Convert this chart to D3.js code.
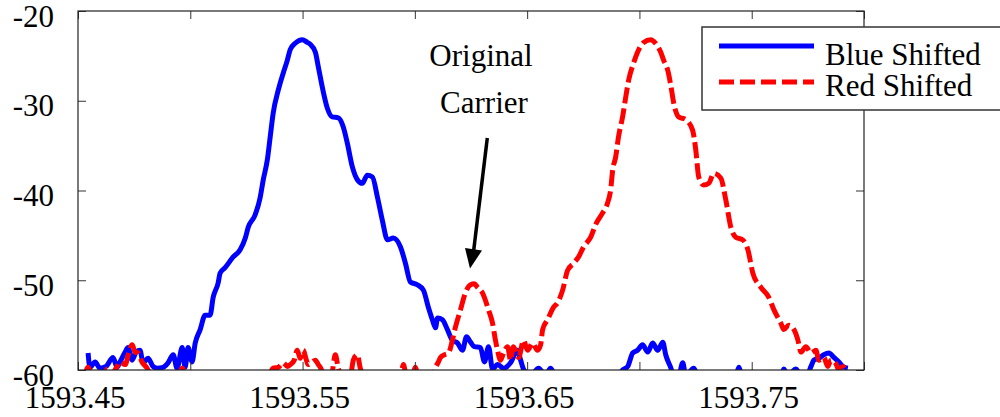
<!DOCTYPE html>
<html><head><meta charset="utf-8">
<script src="https://cdn.jsdelivr.net/npm/d3@7"></script>
<style>body{margin:0;background:#fff}svg{display:block}</style>
</head><body><svg id="c" width="1000" height="417"></svg>
<script>
const blueX=[1593.4545,1593.4553,1593.4576,1593.4598,1593.4625,1593.4656,1593.4674,1593.4687,1593.4710,1593.4723,1593.4741,1593.4759,1593.4776,1593.4790,1593.4812,1593.4834,1593.4852,1593.4879,1593.4901,1593.4924,1593.4941,1593.4964,1593.4977,1593.4990,1593.5008,1593.5022,1593.5044,1593.5066,1593.5088,1593.5102,1593.5124,1593.5133,1593.5155,1593.5191,1593.5222,1593.5245,1593.5258,1593.5289,1593.5311,1593.5325,1593.5343,1593.5356,1593.5369,1593.5392,1593.5414,1593.5432,1593.5445,1593.5467,1593.5499,1593.5521,1593.5534,1593.5557,1593.5570,1593.5588,1593.5610,1593.5632,1593.5659,1593.5681,1593.5699,1593.5722,1593.5744,1593.5766,1593.5788,1593.5811,1593.5833,1593.5855,1593.5878,1593.5904,1593.5936,1593.5958,1593.5980,1593.6011,1593.6038,1593.6060,1593.6078,1593.6092,1593.6101,1593.6123,1593.6145,1593.6167,1593.6190,1593.6212,1593.6230,1593.6248,1593.6265,1593.6292,1593.6310,1593.6328,1593.6346,1593.6368,1593.6395,1593.6426,1593.6457,1593.6471,1593.6484,1593.6515,1593.6551,1593.6582,1593.6604,1593.6627,1593.6907,1593.6925,1593.6948,1593.6970,1593.6992,1593.7014,1593.7037,1593.7059,1593.7081,1593.7104,1593.7117,1593.7139,1593.7153,1593.7175,1593.7193,1593.7206,1593.7242,1593.7260,1593.7429,1593.7443,1593.7456,1593.7630,1593.7643,1593.7661,1593.7697,1593.7719,1593.7746,1593.7764,1593.7777,1593.7799,1593.7821,1593.7844,1593.7866,1593.7888,1593.7906,1593.7928];
const blueY=[-58.1,-59.7,-59.1,-59.8,-59.6,-58.6,-59.7,-59.1,-58.0,-57.5,-58.9,-58.0,-57.8,-59.2,-58.7,-59.6,-59.8,-59.7,-59.2,-58.3,-59.8,-57.5,-59.7,-57.5,-59.1,-57.0,-55.5,-53.9,-53.9,-51.9,-50.3,-49.2,-48.6,-47.4,-46.6,-45.3,-44.1,-42.7,-40.8,-38.8,-36.6,-34.0,-31.4,-28.8,-26.9,-25.5,-24.3,-23.6,-23.2,-23.5,-23.7,-24.6,-26.2,-28.5,-30.8,-31.8,-31.9,-32.9,-34.7,-37.4,-38.8,-39.2,-38.3,-38.5,-40.7,-43.3,-45.5,-45.3,-46.3,-48.1,-50.2,-50.5,-51.1,-53.0,-54.4,-55.3,-54.2,-54.4,-55.5,-56.7,-57.0,-57.8,-56.3,-56.9,-57.4,-57.5,-59.1,-57.4,-59.9,-59.4,-59.8,-59.2,-57.8,-58.9,-59.9,-60.6,-59.8,-60.6,-59.8,-60.6,-60.6,-60.0,-59.6,-58.1,-57.8,-57.2,-58.0,-57.0,-57.8,-56.9,-58.3,-59.7,-60.6,-60.6,-59.2,-60.6,-59.8,-60.6,-60.6,-59.7,-60.6,-60.6,-59.9,-60.6,-59.9,-60.6,-60.6,-59.6,-58.9,-58.7,-58.3,-58.1,-58.6,-59.1,-59.6,-59.8];
const redX=[1593.4531,1593.4545,1593.4562,1593.4616,1593.4629,1593.4647,1593.4674,1593.4687,1593.4710,1593.4727,1593.4741,1593.4754,1593.4767,1593.4785,1593.4808,1593.4825,1593.4946,1593.4964,1593.4981,1593.5347,1593.5369,1593.5392,1593.5414,1593.5432,1593.5445,1593.5463,1593.5476,1593.5490,1593.5503,1593.5517,1593.5525,1593.5543,1593.5557,1593.5570,1593.5579,1593.5597,1593.5628,1593.5646,1593.5659,1593.5677,1593.5713,1593.5726,1593.5744,1593.5757,1593.5771,1593.5936,1593.5949,1593.5962,1593.5989,1593.6002,1593.6016,1593.6078,1593.6092,1593.6105,1593.6114,1593.6132,1593.6150,1593.6167,1593.6181,1593.6203,1593.6225,1593.6248,1593.6265,1593.6279,1593.6301,1593.6328,1593.6346,1593.6359,1593.6368,1593.6381,1593.6395,1593.6413,1593.6426,1593.6439,1593.6462,1593.6484,1593.6502,1593.6524,1593.6546,1593.6560,1593.6569,1593.6591,1593.6618,1593.6636,1593.6658,1593.6680,1593.6707,1593.6729,1593.6751,1593.6783,1593.6805,1593.6836,1593.6858,1593.6872,1593.6881,1593.6894,1593.6907,1593.6925,1593.6939,1593.6952,1593.6974,1593.6997,1593.7019,1593.7050,1593.7072,1593.7095,1593.7108,1593.7126,1593.7139,1593.7153,1593.7175,1593.7206,1593.7237,1593.7251,1593.7264,1593.7286,1593.7309,1593.7331,1593.7362,1593.7385,1593.7407,1593.7429,1593.7460,1593.7483,1593.7505,1593.7541,1593.7576,1593.7599,1593.7630,1593.7643,1593.7665,1593.7688,1593.7706,1593.7719,1593.7741,1593.7764,1593.7786,1593.7799,1593.7821,1593.7839,1593.7853,1593.7875,1593.7888,1593.7906,1593.7920];
const redY=[-60.6,-59.7,-60.6,-60.6,-59.9,-60.6,-59.6,-59.1,-59.4,-58.0,-57.2,-58.0,-58.1,-59.1,-59.8,-60.6,-60.6,-59.8,-60.6,-60.6,-59.8,-59.7,-59.2,-59.6,-59.4,-58.9,-57.8,-58.7,-57.8,-58.9,-59.4,-59.1,-58.9,-59.4,-59.7,-60.6,-60.6,-58.3,-59.8,-60.6,-60.6,-58.9,-58.3,-59.8,-60.6,-60.6,-59.4,-60.6,-60.6,-59.7,-60.6,-60.6,-59.7,-59.1,-58.6,-58.3,-58.1,-56.7,-55.2,-53.3,-51.4,-50.5,-50.4,-50.8,-51.4,-53.3,-54.8,-56.7,-57.8,-58.9,-58.1,-57.4,-58.9,-57.4,-58.6,-56.7,-57.8,-57.0,-57.8,-57.2,-55.5,-54.4,-53.0,-52.5,-51.1,-48.9,-48.1,-47.4,-46.3,-45.2,-43.8,-42.5,-41.4,-39.9,-37.7,-36.3,-34.0,-31.8,-29.6,-27.7,-25.8,-24.3,-23.5,-23.2,-23.6,-24.6,-25.5,-26.6,-28.2,-30.3,-31.8,-32.1,-33.3,-35.5,-38.5,-39.4,-39.2,-38.1,-38.6,-41.1,-44.1,-45.2,-45.5,-46.6,-49.2,-50.8,-51.9,-53.3,-54.8,-55.5,-55.0,-55.5,-56.7,-58.0,-57.4,-58.1,-57.8,-58.9,-58.6,-59.6,-58.9,-59.3,-60.0,-59.6,-60.6];
const xTicks=[1593.45,1593.50,1593.55,1593.60,1593.65,1593.70,1593.75,1593.80];
const xLabels=[1593.45,1593.55,1593.65,1593.75];
const yTicks=[-60,-50,-40,-30,-20];
const seriesNames=["Blue Shifted","Red Shifted"];
const annotation=["Original","Carrier"];

const FONT="'Liberation Serif','Times New Roman',Times,'DejaVu Serif',serif";
const svg=d3.select("#c").attr("font-family",FONT);
const L=78,R=864,T=11,B=370;
const x=d3.scaleLinear().domain([1593.45,1593.80]).range([L,R]);
const y=d3.scaleLinear().domain([-60,-20]).range([B,T]);

svg.append("defs").append("clipPath").attr("id","clip").append("rect")
  .attr("x",L).attr("y",T).attr("width",R-L).attr("height",B-T);

const line=d3.line().x(d=>x(d[0])).y(d=>y(d[1])).curve(d3.curveMonotoneX);
const blue=blueX.map((v,i)=>[v,blueY[i]]);
const red=redX.map((v,i)=>[v,redY[i]]);

const g=svg.append("g").attr("clip-path","url(#clip)");
g.append("path").datum(blue).attr("d",line).attr("fill","none").attr("stroke","#0000ff").attr("stroke-width",5).attr("stroke-linejoin","round");
g.append("path").datum(red).attr("d",line).attr("fill","none").attr("stroke","#ff0000").attr("stroke-width",5).attr("stroke-dasharray","16,5");

// axes
const ax=svg.append("g");
const tl=8;
const bx=d3.axisBottom(x).tickValues(xTicks).tickSizeInner(-tl).tickSizeOuter(0).tickFormat("");
const tx=d3.axisTop(x).tickValues(xTicks).tickSizeInner(-tl).tickSizeOuter(0).tickFormat("");
const ly=d3.axisLeft(y).tickValues(yTicks).tickSizeInner(-tl).tickSizeOuter(0).tickFormat("");
const ry=d3.axisRight(y).tickValues(yTicks).tickSizeInner(-tl).tickSizeOuter(0).tickFormat("");
ax.append("g").attr("transform",`translate(0,${B})`).call(bx);
ax.append("g").attr("transform",`translate(0,${T})`).call(tx);
ax.append("g").attr("transform",`translate(${L},0)`).call(ly);
ax.append("g").attr("transform",`translate(${R},0)`).call(ry);
ax.selectAll(".domain").remove();
ax.selectAll("line").attr("stroke","#333").attr("stroke-width",1);
svg.append("rect").attr("x",L).attr("y",T).attr("width",R-L).attr("height",B-T)
  .attr("fill","none").attr("stroke","#222").attr("stroke-width",1.2);

svg.append("g").selectAll("text").data(xLabels).join("text")
  .attr("x",d=>x(d)-3).attr("y",408).attr("text-anchor","middle")
  .attr("font-family",FONT).attr("font-size",31).text(d=>d.toFixed(2));
svg.append("g").selectAll("text").data(yTicks).join("text")
  .attr("x",54).attr("y",d=>y(d)+15.5).attr("text-anchor","end")
  .attr("font-family",FONT).attr("font-size",31).text(d=>d);

// annotation
svg.selectAll(".ann").data(annotation).join("text").attr("class","ann")
  .attr("x",(d,i)=>i?484:481).attr("y",(d,i)=>i?113:66).attr("text-anchor","middle")
  .attr("font-family",FONT).attr("font-size",31).text(d=>d);
svg.append("line").attr("x1",487.3).attr("y1",138).attr("x2",473.5).attr("y2",252)
  .attr("stroke","#000").attr("stroke-width",3.5);
svg.append("path").attr("d","M465,248 L482,250.5 L470,268.5 Z").attr("fill","#000");

// legend
const lg=svg.append("g");
lg.append("rect").attr("x",702).attr("y",27).attr("width",320).attr("height",83)
  .attr("fill","#fff").attr("stroke","#333").attr("stroke-width",1.5);
const cols=["#0000ff","#ff0000"];
seriesNames.forEach((n,i)=>{
  const ly0=[46,82][i];
  lg.append("line").attr("x1",719).attr("x2",814).attr("y1",ly0).attr("y2",ly0)
    .attr("stroke",cols[i]).attr("stroke-width",5).attr("stroke-dasharray",i?"15,6":null);
  lg.append("text").attr("x",825).attr("y",[65,96][i]).attr("font-family",FONT).attr("font-size",31).text(n);
});
</script></body></html>
